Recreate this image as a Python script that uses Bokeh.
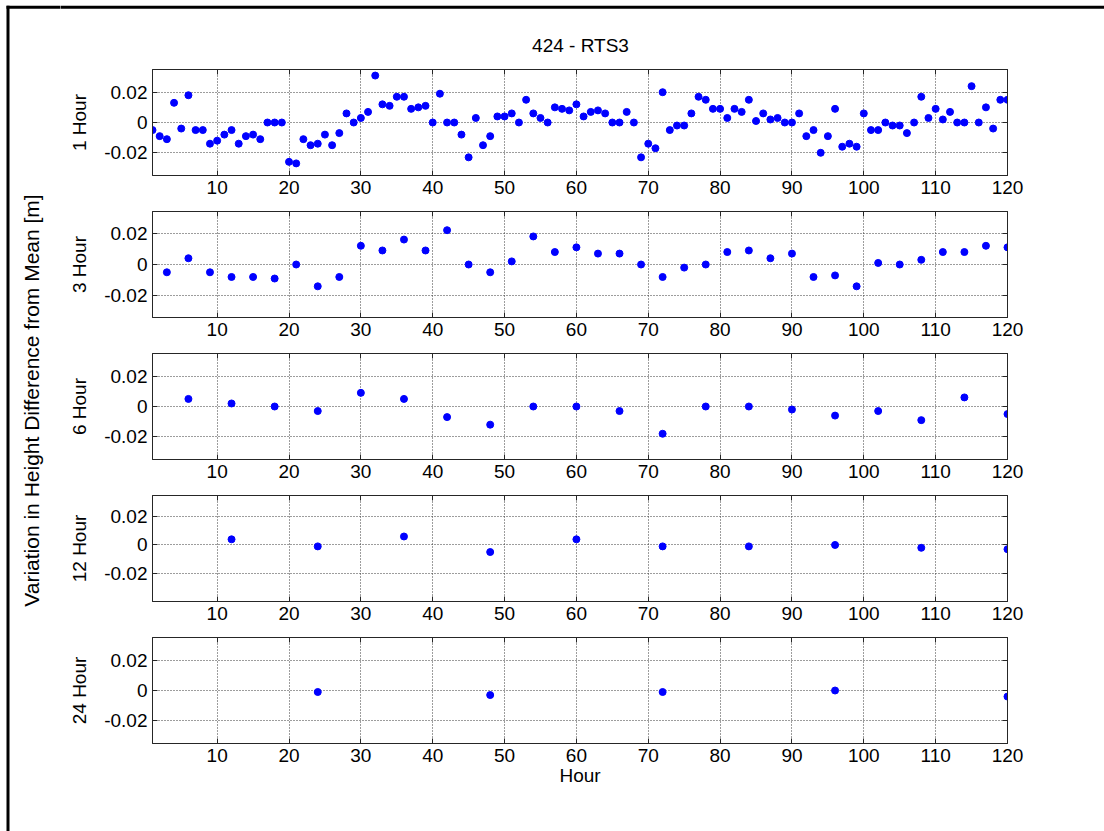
import math
from bokeh.plotting import figure
from bokeh.layouts import row, column
from bokeh.models import Range1d, FixedTicker, LinearAxis
from bokeh.core.properties import value
from bokeh.embed import file_html
from bokeh.resources import INLINE

# ---------------- data ----------------
title_text = "424 - RTS3"
ylabel_text = "Variation in Height Difference from Mean [m]"
xlabel_text = "Hour"
panel_labels = ["1 Hour", "3 Hour", "6 Hour", "12 Hour", "24 Hour"]

x_ticks = [10, 20, 30, 40, 50, 60, 70, 80, 90, 100, 110, 120]
y_ticks = [-0.02, 0.0, 0.02]
y_tick_labels = ["-0.02", "0", "0.02"]

hours_1 = list(range(1, 121))
vals_1 = [
    -0.005, -0.009, -0.011, 0.013, -0.004, 0.018, -0.005, -0.005, -0.014, -0.012,
    -0.008, -0.005, -0.014, -0.009, -0.008, -0.011, 0.000, 0.000, 0.000, -0.026,
    -0.027, -0.011, -0.015, -0.014, -0.008, -0.015, -0.007, 0.006, 0.000, 0.003,
    0.007, 0.031, 0.012, 0.011, 0.017, 0.017, 0.009, 0.010, 0.011, 0.000,
    0.019, 0.000, 0.000, -0.008, -0.023, 0.003, -0.015, -0.009, 0.004, 0.004,
    0.006, 0.000, 0.015, 0.006, 0.003, 0.000, 0.010, 0.009, 0.008, 0.012,
    0.004, 0.007, 0.008, 0.006, 0.000, 0.000, 0.007, 0.000, -0.023, -0.014,
    -0.017, 0.020, -0.005, -0.002, -0.002, 0.006, 0.017, 0.015, 0.009, 0.009,
    0.003, 0.009, 0.007, 0.015, 0.001, 0.006, 0.002, 0.003, 0.000, 0.000,
    0.006, -0.009, -0.005, -0.020, -0.009, 0.009, -0.016, -0.014, -0.016, 0.006,
    -0.005, -0.005, 0.000, -0.002, -0.002, -0.007, 0.000, 0.017, 0.003, 0.009,
    0.002, 0.007, 0.000, 0.000, 0.024, 0.000, 0.010, -0.004, 0.015, 0.015,
]

hours_3 = list(range(3, 121, 3))
vals_3 = [
    -0.005, 0.004, -0.005, -0.008, -0.008, -0.009, 0.000, -0.014, -0.008, 0.012,
    0.009, 0.016, 0.009, 0.022, 0.000, -0.005, 0.002, 0.018, 0.008, 0.011,
    0.007, 0.007, 0.000, -0.008, -0.002, 0.000, 0.008, 0.009, 0.004, 0.007,
    -0.008, -0.007, -0.014, 0.001, 0.000, 0.003, 0.008, 0.008, 0.012, 0.011,
]

hours_6 = list(range(6, 121, 6))
vals_6 = [
    0.005, 0.002, 0.000, -0.003, 0.009, 0.005, -0.007, -0.012, 0.000, 0.000,
    -0.003, -0.018, 0.000, 0.000, -0.002, -0.006, -0.003, -0.009, 0.006, -0.005,
]

hours_12 = list(range(12, 121, 12))
vals_12 = [0.004, -0.001, 0.006, -0.005, 0.004, -0.001, -0.001, 0.000, -0.002, -0.003]

hours_24 = list(range(24, 121, 24))
vals_24 = [-0.001, -0.003, -0.001, 0.000, -0.004]

y_limits = [(-0.035, 0.035), (-0.034, 0.034), (-0.035, 0.035), (-0.040, 0.035), (-0.035, 0.035)]

# ---------------- layout / style ----------------
FONT = "Liberation Sans"
TOTAL_W, TOTAL_H = 1104, 831
LEFT_W = 60
HEADER_H = 63
MAIN_W = TOTAL_W - LEFT_W
DARK = "#262626"


def style_axis(ax, ticks, overrides=None, labels=True, font_size="19px"):
    ax.ticker = FixedTicker(ticks=ticks)
    ax.major_tick_in = 5
    ax.major_tick_out = 0
    ax.minor_tick_line_color = None
    ax.axis_line_color = DARK
    ax.major_tick_line_color = DARK
    ax.major_label_text_font = FONT
    if labels:
        ax.major_label_text_color = "black"
        ax.major_label_text_font_size = font_size
        ax.major_label_standoff = 5
        if overrides:
            ax.major_label_overrides = overrides
    else:
        ax.major_label_text_color = None
        ax.major_label_text_font_size = "1px"
        ax.major_label_standoff = 0


def make_panel(hrs, vals, label, ylim, top, bottom, xlabel=None):
    height = top + 106 + bottom
    p = figure(width=MAIN_W, height=height,
               x_range=Range1d(1, 120), y_range=Range1d(*ylim),
               output_backend="svg", toolbar_location=None,
               min_border_left=92, min_border_right=97,
               min_border_top=top, min_border_bottom=bottom,
               background_fill_color="white", border_fill_color="white",
               outline_line_color=DARK)
    p.scatter(hrs, vals, size=7, color="#0000ff", line_color="#0000ff")

    overrides = {t: s for t, s in zip(y_ticks, y_tick_labels)}
    for ax in p.xaxis:
        style_axis(ax, x_ticks)
    for ax in p.yaxis:
        style_axis(ax, y_ticks, overrides=overrides)
    p.yaxis.axis_label = label
    p.yaxis.axis_label_text_font = FONT
    p.yaxis.axis_label_text_font_size = "19px"
    p.yaxis.axis_label_text_font_style = "normal"
    p.yaxis.axis_label_text_color = "black"
    p.yaxis.axis_label_standoff = 11
    if xlabel:
        p.xaxis.axis_label = xlabel
        p.xaxis.axis_label_text_font = FONT
        p.xaxis.axis_label_text_font_size = "19px"
        p.xaxis.axis_label_text_font_style = "normal"
        p.xaxis.axis_label_text_color = "black"
        p.xaxis.axis_label_standoff = 0

    top_ax = LinearAxis()
    style_axis(top_ax, x_ticks, labels=False)
    p.add_layout(top_ax, "above")
    right_ax = LinearAxis()
    style_axis(right_ax, y_ticks, labels=False)
    p.add_layout(right_ax, "right")

    p.xgrid.ticker = FixedTicker(ticks=x_ticks)
    p.ygrid.ticker = FixedTicker(ticks=y_ticks)
    p.grid.grid_line_color = "#3a3a3a"
    p.grid.grid_line_dash = "1 2"
    p.grid.grid_line_width = 1
    return p


series = [(hours_1, vals_1), (hours_3, vals_3), (hours_6, vals_6),
          (hours_12, vals_12), (hours_24, vals_24)]
panels = []
for i, ((h, v), lab, yl) in enumerate(zip(series, panel_labels, y_limits)):
    if i < 4:
        panels.append(make_panel(h, v, lab, yl, 6, 30))
    else:
        panels.append(make_panel(h, v, lab, yl, 6, 88, xlabel=xlabel_text))

# header with title and top border
header = figure(width=MAIN_W, height=HEADER_H,
                x_range=Range1d(LEFT_W, TOTAL_W), y_range=Range1d(0, HEADER_H),
                x_axis_location=None, y_axis_location=None, min_border=0,
                min_border_left=0, min_border_right=0,
                min_border_top=0, min_border_bottom=0,
                outline_line_color=None, toolbar_location=None,
                output_backend="svg", border_fill_color="white",
                frame_align=False)
header.grid.visible = False
header.segment(x0=[LEFT_W - 2], y0=[HEADER_H - 6.8], x1=[TOTAL_W], y1=[HEADER_H - 6.8],
               line_width=3, line_color="black")
header.text(x=[580], y=[HEADER_H - 45], text=[title_text],
            text_align="center", text_baseline="middle",
            text_font=value(FONT), text_font_size="19px", text_color="black")

# left strip with border and overall y label
left = figure(width=LEFT_W, height=TOTAL_H,
              x_range=Range1d(0, LEFT_W), y_range=Range1d(0, TOTAL_H),
              x_axis_location=None, y_axis_location=None, min_border=0,
              min_border_left=0, min_border_right=0,
              min_border_top=0, min_border_bottom=0,
              outline_line_color=None, toolbar_location=None,
              output_backend="svg", border_fill_color="white",
              frame_align=False)
left.grid.visible = False
left.segment(x0=[7.5], y0=[0], x1=[7.5], y1=[TOTAL_H - 5.3],
             line_width=3, line_color="black")
left.segment(x0=[6], y0=[TOTAL_H - 6.8], x1=[LEFT_W + 2], y1=[TOTAL_H - 6.8],
             line_width=3, line_color="black")
left.text(x=[31], y=[TOTAL_H - 400], text=[ylabel_text], angle=math.pi / 2,
          text_align="center", text_baseline="middle",
          text_font=value(FONT), text_font_size="21px", text_color="black")

layout = row(left, column(header, *panels, spacing=0), spacing=0)

open("out.html", "w").write(file_html(layout, INLINE))
